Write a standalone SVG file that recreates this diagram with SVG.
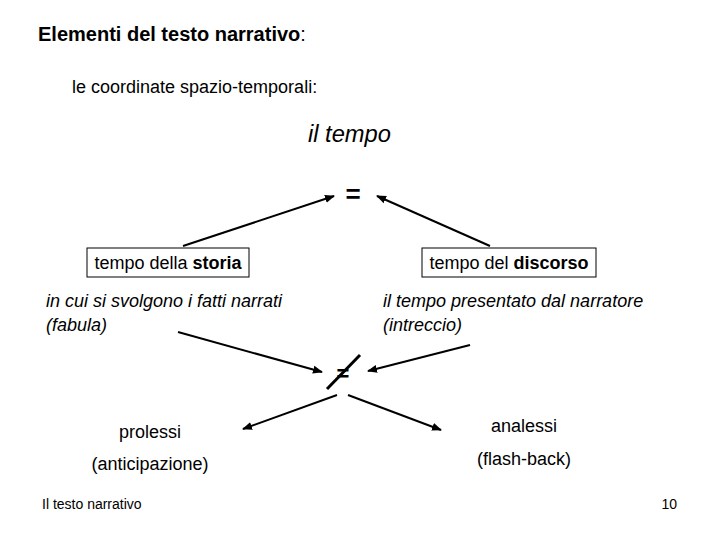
<svg xmlns="http://www.w3.org/2000/svg" width="720" height="540" viewBox="0 0 720 540">
<defs>
<style>
text{font-family:"Liberation Sans",Arial,sans-serif;fill:#000}
.b{font-weight:bold}
.i{font-style:italic}
.box{fill:#fff;stroke:#000;stroke-width:1}
.ln{stroke:#000;stroke-width:2;fill:none}
</style>
<marker id="ah" viewBox="0 0 10 10" refX="9" refY="5" markerWidth="5" markerHeight="5" orient="auto" markerUnits="strokeWidth">
<path d="M0,1 L10,5 L0,9 z" fill="#000"/>
</marker>
</defs>
<rect width="720" height="540" fill="#fff"/>
<g id="title">
<text x="38" y="41" font-size="20"><tspan class="b">Elementi del testo narrativo</tspan>:</text>
<text x="72" y="93" font-size="18">le coordinate spazio-temporali:</text>
</g>
<g id="il-tempo"><text x="308" y="142" font-size="23.7" class="i">il tempo</text></g>
<g id="uguale"><text x="353" y="203" font-size="26" class="b" text-anchor="middle">=</text></g>
<g id="storia">
<rect class="box" x="87" y="248" width="162" height="29"/>
<text x="168" y="269" font-size="18" text-anchor="middle">tempo della <tspan class="b">storia</tspan></text>
</g>
<g id="discorso">
<rect class="box" x="422" y="248" width="174" height="29"/>
<text x="509" y="269" font-size="18" text-anchor="middle">tempo del <tspan class="b">discorso</tspan></text>
</g>
<g id="fabula">
<text x="46" y="307" font-size="18" class="i">in cui si svolgono i fatti narrati</text>
<text x="46" y="331" font-size="18" class="i">(fabula)</text>
</g>
<g id="intreccio">
<text x="383" y="307" font-size="18" class="i">il tempo presentato dal narratore</text>
<text x="383" y="331" font-size="18" class="i">(intreccio)</text>
</g>
<g id="diverso">
<text x="343" y="381" font-size="22" class="b" text-anchor="middle">=</text>
<line x1="327" y1="389" x2="360" y2="355" stroke="#000" stroke-width="3"/>
</g>
<g id="prolessi">
<text x="150" y="438" font-size="18" text-anchor="middle">prolessi</text>
<text x="150" y="470" font-size="18" text-anchor="middle">(anticipazione)</text>
</g>
<g id="analessi">
<text x="524" y="432" font-size="18" text-anchor="middle">analessi</text>
<text x="524" y="465" font-size="18" text-anchor="middle">(flash-back)</text>
</g>
<g id="footer">
<text x="42" y="509" font-size="14">Il testo narrativo</text>
<text x="677" y="509" font-size="14" text-anchor="end">10</text>
</g>
<g id="connectors">
<line class="ln" x1="183" y1="246" x2="334" y2="196" marker-end="url(#ah)"/>
<line class="ln" x1="490" y1="246" x2="377" y2="196" marker-end="url(#ah)"/>
<line class="ln" x1="178" y1="332" x2="322" y2="372" marker-end="url(#ah)"/>
<line class="ln" x1="470" y1="345" x2="368" y2="371" marker-end="url(#ah)"/>
<line class="ln" x1="337" y1="395" x2="243" y2="429" marker-end="url(#ah)"/>
<line class="ln" x1="348" y1="395" x2="441" y2="430" marker-end="url(#ah)"/>
</g>
</svg>
